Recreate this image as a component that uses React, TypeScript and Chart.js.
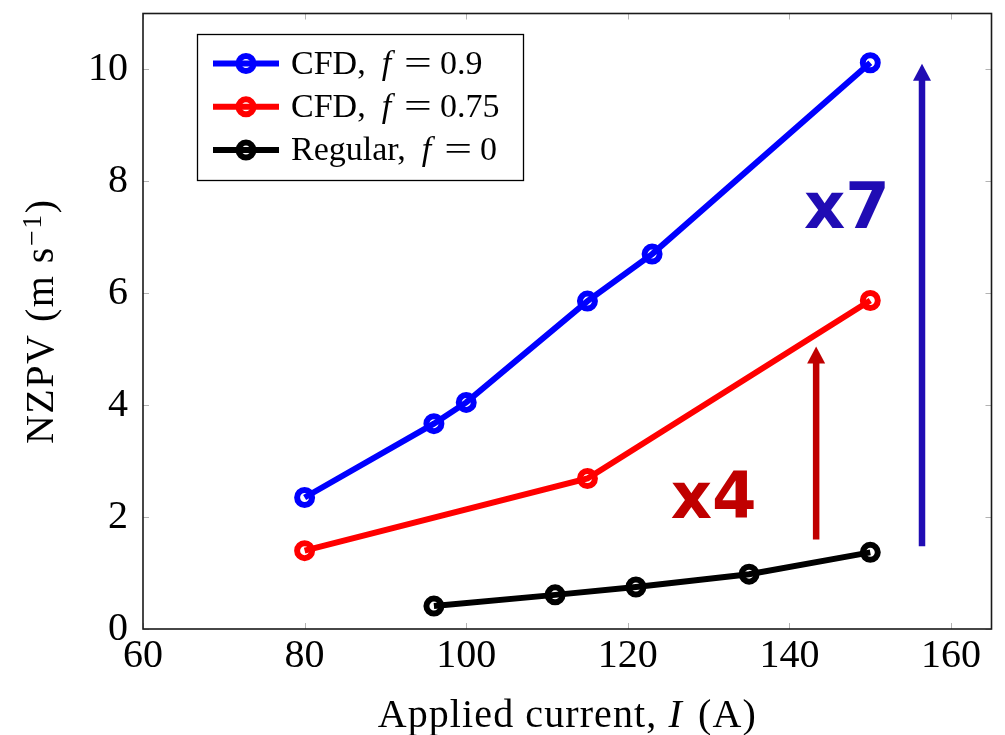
import React, { useEffect, useRef } from "react";
import { Chart, registerables } from "chart.js";

Chart.register(...registerables);

// ---- data ----
const blueCurrent = [80, 96, 100, 115, 123, 150];
const blueNZPV = [2.35, 3.67, 4.05, 5.86, 6.7, 10.12];
const redCurrent = [80, 115, 150];
const redNZPV = [1.4, 2.69, 5.87];
const blackCurrent = [96, 111, 121, 135, 150];
const blackNZPV = [0.41, 0.61, 0.75, 0.98, 1.37];

const xTickValues = [60, 80, 100, 120, 140, 160];
const yTickValues = [0, 2, 4, 6, 8, 10];

const seriesPrefixes = ["CFD, ", "CFD, ", "Regular, "];
const seriesFValues = ["0.9", "0.75", "0"];
const seriesColors = ["#0000ff", "#ff0000", "#000000"];

// annotation arrows (current, NZPV from, NZPV to) and factor labels
const arrowCurrents = [143.3, 156.4];
const arrowFrom = [1.6, 1.48];
const arrowTo = [5.05, 10.1];
const arrowColors = ["#c00000", "#200cb4"];
const factorTexts = ["x4", "x7"];
const factorCurrents = [125.3, 141.8];
const factorNZPV = [1.99, 7.17];

const SERIF = '"Liberation Serif", "Times New Roman", serif';

function toPoints(xs: number[], ys: number[]) {
  return xs.map((x, i) => ({ x, y: ys[i] }));
}

const tickMarksPlugin = {
  id: "inwardTicks",
  beforeDatasetsDraw(chart: any) {
    const { ctx, chartArea, scales } = chart;
    const len = 6;
    ctx.save();
    ctx.strokeStyle = "#b3b3b3";
    ctx.lineWidth = 1;
    ctx.beginPath();
    xTickValues.forEach((v) => {
      const px = Math.round(scales.x.getPixelForValue(v)) + 0.5;
      ctx.moveTo(px, chartArea.bottom);
      ctx.lineTo(px, chartArea.bottom - len);
      ctx.moveTo(px, chartArea.top);
      ctx.lineTo(px, chartArea.top + len);
    });
    yTickValues.forEach((v) => {
      const py = Math.round(scales.y.getPixelForValue(v)) + 0.5;
      ctx.moveTo(chartArea.left, py);
      ctx.lineTo(chartArea.left + len, py);
      ctx.moveTo(chartArea.right, py);
      ctx.lineTo(chartArea.right - len, py);
    });
    ctx.stroke();
    ctx.restore();
  },
};

const annotationPlugin = {
  id: "arrowsAndFactors",
  afterDatasetsDraw(chart: any) {
    const { ctx, scales } = chart;
    ctx.save();
    arrowCurrents.forEach((cur, i) => {
      const x = scales.x.getPixelForValue(cur);
      const y0 = scales.y.getPixelForValue(arrowFrom[i]);
      const y1 = scales.y.getPixelForValue(arrowTo[i]);
      const headH = 17;
      const headW = 18;
      ctx.strokeStyle = arrowColors[i];
      ctx.fillStyle = arrowColors[i];
      ctx.lineWidth = 6.5;
      ctx.lineCap = "butt";
      ctx.beginPath();
      ctx.moveTo(x, y0);
      ctx.lineTo(x, y1 + headH - 1);
      ctx.stroke();
      ctx.beginPath();
      ctx.moveTo(x, y1);
      ctx.lineTo(x - headW / 2, y1 + headH);
      ctx.lineTo(x + headW / 2, y1 + headH);
      ctx.closePath();
      ctx.fill();
    });
    factorTexts.forEach((t, i) => {
      const x = scales.x.getPixelForValue(factorCurrents[i]);
      const y = scales.y.getPixelForValue(factorNZPV[i]);
      ctx.fillStyle = arrowColors[i];
      ctx.font = 'bold 64px "DejaVu Sans", Verdana, sans-serif';
      ctx.textAlign = "left";
      ctx.textBaseline = "alphabetic";
      ctx.fillText(t, x, y);
    });
    ctx.restore();
  },
};

type Part = { t: string; font: string; dy?: number; gap?: number; sx?: number };

function drawParts(ctx: any, parts: Part[], x: number, y: number, align: "left" | "center") {
  let total = 0;
  parts.forEach((p) => {
    ctx.font = p.font;
    total += ctx.measureText(p.t).width * (p.sx || 1) + (p.gap || 0);
  });
  let cx = align === "center" ? x - total / 2 : x;
  parts.forEach((p) => {
    ctx.font = p.font;
    const w = ctx.measureText(p.t).width;
    const sx = p.sx || 1;
    if (sx !== 1) {
      ctx.save();
      ctx.translate(cx, y + (p.dy || 0));
      ctx.scale(sx, 1);
      ctx.fillText(p.t, 0, 0);
      ctx.restore();
    } else {
      ctx.fillText(p.t, cx, y + (p.dy || 0));
    }
    cx += w * sx + (p.gap || 0);
  });
}

const framePlugin = {
  id: "frameTitlesLegend",
  afterDraw(chart: any) {
    const { ctx, chartArea } = chart;
    ctx.save();
    // frame
    ctx.strokeStyle = "#1a1a1a";
    ctx.lineWidth = 1.6;
    ctx.strokeRect(chartArea.left, chartArea.top, chartArea.right - chartArea.left, chartArea.bottom - chartArea.top);

    // axis titles
    ctx.fillStyle = "#000";
    ctx.textAlign = "left";
    ctx.textBaseline = "alphabetic";
    (ctx as any).letterSpacing = "1.1px";
    const normal = `40px ${SERIF}`;
    const italic = `italic 40px ${SERIF}`;
    drawParts(
      ctx,
      [
        { t: "Applied current, ", font: normal },
        { t: "I", font: italic, gap: 4 },
        { t: " (A)", font: normal },
      ],
      (chartArea.left + chartArea.right) / 2,
      727,
      "center"
    );
    ctx.save();
    ctx.translate(53, (chartArea.top + chartArea.bottom) / 2);
    ctx.rotate(-Math.PI / 2);
    (ctx as any).letterSpacing = "1.5px";
    drawParts(
      ctx,
      [
        { t: "NZPV (m s", font: normal },
        { t: "\u22121", font: `28px ${SERIF}`, dy: -12 },
        { t: ")", font: normal },
      ],
      0,
      0,
      "center"
    );
    ctx.restore();
    (ctx as any).letterSpacing = "0px";

    // legend
    const bx = 197.5, by = 34.5, bw = 326, bh = 146;
    ctx.fillStyle = "#fff";
    ctx.fillRect(bx, by, bw, bh);
    ctx.strokeStyle = "#000";
    ctx.lineWidth = 1.3;
    ctx.strokeRect(bx, by, bw, bh);
    const legFont = `34px ${SERIF}`;
    const legItalic = `italic 34px ${SERIF}`;
    chart.data.datasets.forEach((ds: any, i: number) => {
      const ry = 63.5 + i * 43.3;
      ctx.strokeStyle = ds.borderColor;
      ctx.lineWidth = 6;
      ctx.lineCap = "butt";
      ctx.beginPath();
      ctx.moveTo(213, ry);
      ctx.lineTo(279, ry);
      ctx.stroke();
      ctx.beginPath();
      ctx.arc(246, ry, 7.5, 0, Math.PI * 2);
      ctx.stroke();
      ctx.fillStyle = "#000";
      drawParts(
        ctx,
        [
          { t: seriesPrefixes[i].trim(), font: legFont, gap: 16 },
          { t: "f", font: legItalic, gap: 13 },
          { t: "=", font: legFont, gap: 8, sx: 1.45 },
          { t: seriesFValues[i], font: legFont },
        ],
        291,
        ry + 10,
        "left"
      );
    });
    ctx.restore();
  },
};

export default function App() {
  const canvasRef = useRef<HTMLCanvasElement | null>(null);

  useEffect(() => {
    const canvas = canvasRef.current;
    if (!canvas) return;
    const mk = (i: number, xs: number[], ys: number[]) => ({
      label: `${seriesPrefixes[i]}f = ${seriesFValues[i]}`,
      data: toPoints(xs, ys),
      showLine: true,
      borderColor: seriesColors[i],
      backgroundColor: seriesColors[i],
      borderWidth: 6,
      pointRadius: 7.5,
      pointBorderWidth: 6,
      pointBackgroundColor: "rgba(0,0,0,0)",
      pointBorderColor: seriesColors[i],
      pointHoverRadius: 7.5,
      tension: 0,
    });
    const chart = new Chart(canvas, {
      type: "scatter",
      data: {
        datasets: [
          mk(0, blueCurrent, blueNZPV),
          mk(1, redCurrent, redNZPV),
          mk(2, blackCurrent, blackNZPV),
        ],
      },
      options: {
        animation: false,
        responsive: false,
        devicePixelRatio: 1,
        layout: { padding: { top: 7, right: 13, left: 0, bottom: 0 } },
        plugins: { legend: { display: false }, tooltip: { enabled: false } },
        scales: {
          x: {
            type: "linear",
            min: 60,
            max: 165,
            grid: { display: false, drawTicks: false },
            border: { display: false },
            afterBuildTicks: (s: any) => {
              s.ticks = xTickValues.map((v) => ({ value: v }));
            },
            afterFit: (s: any) => {
              s.height = 106;
              s.paddingLeft = 0;
              s.paddingRight = 0;
            },
            ticks: {
              autoSkip: false,
              maxRotation: 0,
              padding: 3,
              color: "#000",
              font: { family: SERIF, size: 40 },
            },
          },
          y: {
            type: "linear",
            min: 0,
            max: 11,
            grid: { display: false, drawTicks: false },
            border: { display: false },
            afterBuildTicks: (s: any) => {
              s.ticks = yTickValues.map((v) => ({ value: v }));
            },
            afterFit: (s: any) => {
              s.width = 143;
              s.paddingTop = 0;
              s.paddingBottom = 0;
            },
            ticks: {
              autoSkip: false,
              padding: 15,
              color: "#000",
              font: { family: SERIF, size: 40 },
            },
          },
        },
      },
      plugins: [tickMarksPlugin, annotationPlugin, framePlugin],
    } as any);
    return () => chart.destroy();
  }, []);

  return (
    <div style={{ position: "absolute", left: 0, top: 0, width: 1005, height: 735, background: "#fff" }}>
      <canvas ref={canvasRef} width={1005} height={735} style={{ display: "block" }} />
    </div>
  );
}
